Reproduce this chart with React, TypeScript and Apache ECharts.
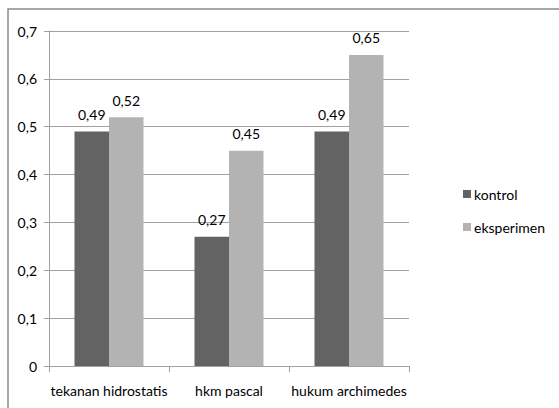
import React, { useEffect, useRef } from "react";
import * as echarts from "echarts";

const categories = ["tekanan hidrostatis", "hkm pascal", "hukum archimedes"];
const kontrol = [0.49, 0.27, 0.49];
const eksperimen = [0.52, 0.45, 0.65];
const yTicks = { min: 0, max: 0.7, interval: 0.1 };

const FONT = "Lato, 'Open Sans', sans-serif";
const fmt = (v: number) => String(Math.round(v * 100) / 100).replace(".", ",");

export default function App() {
  const ref = useRef<HTMLDivElement>(null);
  useEffect(() => {
    if (!ref.current) return;
    const chart = echarts.init(ref.current, undefined, { renderer: "svg" });
    const label = {
      show: true,
      position: "top" as const,
      distance: 10,
      color: "#000",
      fontFamily: FONT,
      fontSize: 14,
      formatter: (p: any) => fmt(p.value),
    };
    chart.setOption({
      animation: false,
      backgroundColor: "#fff",
      textStyle: { fontFamily: FONT },
      graphic: [
        {
          type: "rect",
          shape: { x: 8, y: 9, width: 560, height: 420 },
          style: { fill: "none", stroke: "#8c8c8c", lineWidth: 1.5 },
          silent: true,
          z: -1,
        },
      ],
      grid: { left: 49, top: 31, right: 150, bottom: 42 },
      legend: {
        orient: "vertical",
        left: 458,
        top: 182,
        itemWidth: 8,
        itemHeight: 8,
        itemGap: 19,
        icon: "rect",
        textStyle: { fontFamily: FONT, fontSize: 14, color: "#000", padding: [0, 0, 0, -2] },
      },
      xAxis: {
        type: "category",
        data: categories,
        axisLine: { lineStyle: { color: "#a0a0a0" } },
        axisTick: { show: true, length: 6, lineStyle: { color: "#a0a0a0" } },
        axisLabel: { color: "#000", fontFamily: FONT, fontSize: 14, margin: 17, interval: 0 },
      },
      yAxis: {
        type: "value",
        min: yTicks.min,
        max: yTicks.max,
        interval: yTicks.interval,
        axisLine: { show: true, lineStyle: { color: "#a0a0a0" } },
        axisTick: { show: true, length: 5, lineStyle: { color: "#a0a0a0" } },
        splitLine: { lineStyle: { color: "#a0a0a0" } },
        axisLabel: { color: "#000", fontFamily: FONT, fontSize: 14, margin: 12, formatter: (v: number) => fmt(v) },
      },
      series: [
        {
          name: "kontrol",
          type: "bar",
          data: kontrol,
          itemStyle: { color: "#636363" },
          barGap: "0%",
          barCategoryGap: "42.5%",
          label,
        },
        {
          name: "eksperimen",
          type: "bar",
          data: eksperimen,
          itemStyle: { color: "#b3b3b3" },
          barGap: "0%",
          barCategoryGap: "42.5%",
          label,
        },
      ],
    });
    return () => chart.dispose();
  }, []);
  return (
    <div
      ref={ref}
      style={{ position: "fixed", left: 0, top: 0, width: 559, height: 408 }}
    />
  );
}
